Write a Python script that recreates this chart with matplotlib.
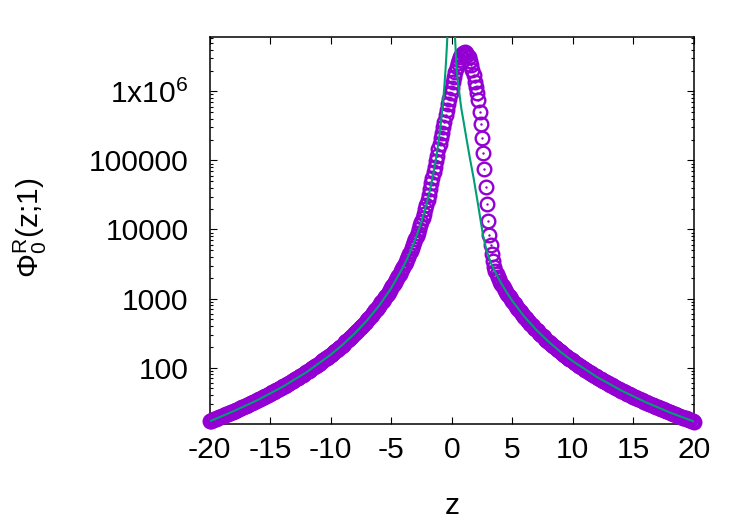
import numpy as np
import matplotlib
matplotlib.use('Agg')
import matplotlib.pyplot as plt
from matplotlib.ticker import FixedLocator, LogLocator, NullFormatter, NullLocator

plt.rcParams['font.family'] = ['Liberation Sans', 'DejaVu Sans']
plt.rcParams['mathtext.fontset'] = 'custom'
plt.rcParams['mathtext.rm'] = 'Liberation Sans'
plt.rcParams['mathtext.it'] = 'Liberation Sans'
plt.rcParams['axes.unicode_minus'] = False

# numerical data, sampled every 0.1 in z
z_num = np.round(np.arange(-20, 20.05, 0.1), 1)

phi_left = [16.75, 17.02, 17.3, 17.58, 17.87, 18.16, 18.46, 18.77, 19.09, 19.41,
            19.74, 20.07, 20.42, 20.77, 21.13, 21.5, 21.87, 22.26, 22.65, 23.05,
            23.47, 23.89, 24.32, 24.76, 25.22, 25.68, 26.15, 26.64, 27.14, 27.65,
            28.17, 28.71, 29.26, 29.83, 30.41, 31.0, 31.61, 32.23, 32.87, 33.53,
            34.21, 34.9, 35.61, 36.34, 37.09, 37.87, 38.66, 39.47, 40.31, 41.17,
            42.05, 42.96, 43.9, 44.86, 45.85, 46.87, 47.92, 49.0, 50.12, 51.26,
            52.44, 53.66, 54.91, 56.21, 57.54, 58.92, 60.33, 61.8, 63.31, 64.87,
            66.48, 68.14, 69.86, 71.64, 73.47, 75.37, 77.33, 79.36, 81.46, 83.63,
            85.89, 88.22, 90.63, 93.13, 95.73, 98.42, 101.2, 104.1, 107.1, 110.2,
            113.5, 116.8, 120.3, 124.0, 127.7, 131.7, 135.8, 140.0, 144.5, 149.1,
            153.9, 159.0, 164.2, 169.7, 175.4, 181.4, 187.6, 194.2, 201.0, 208.1,
            215.6, 223.5, 231.7, 240.3, 249.4, 258.9, 268.9, 279.4, 290.5, 302.1,
            314.3, 327.3, 340.9, 355.2, 370.4, 386.5, 403.4, 421.4, 440.4, 460.5,
            481.9, 504.6, 528.8, 554.4, 581.8, 610.9, 642, 675.2, 710.6, 748.6,
            789.3, 832.9, 879.7, 930, 984.2, 1043, 1106, 1174, 1248, 1328,
            1414, 1509, 1612, 1724, 1847, 1982, 2129, 2292, 2471, 2669,
            2889, 3133, 3404, 3707, 4047, 4429, 4859, 5346, 5900, 6530,
            7253, 8084, 9045, 10161, 11465, 12998, 14812, 16973, 19568, 22709]
phi_peak = [26300, 31600, 38000, 46800, 56200, 67600, 81300, 97700, 117500, 144500,
            173800, 208900, 251200, 302000, 363100, 446700, 537000, 645700, 776200, 933300,
            1.122e6, 1.349e6, 1.622e6, 1.905e6, 2.239e6, 2.570e6, 2.884e6, 3.162e6, 3.388e6, 3.548e6,
            3.631e6, 3.673e6, 3.589e6, 3.388e6, 3.090e6, 2.754e6, 2.399e6, 2.042e6, 1.698e6, 1.380e6,
            1.148e6, 933300, 741300, 501200, 331100, 213800, 125900, 74130, 41210, 23440,
            13490, 8318, 6026, 4467, 3467, 2884, 2512, 2265, 2065, 1905,
            1766]
phi_right = [1644, 1533, 1432, 1340, 1255, 1178, 1106, 1041, 980.5, 924.7,
             873.1, 825.3, 780.9, 739.7, 701.4, 665.7, 632.4, 601.3, 572.2, 545.0,
             519.4, 495.5, 473.1, 451.9, 432.1, 413.4, 395.7, 379.1, 363.4, 348.5,
             334.5, 321.2, 308.6, 296.6, 285.3, 274.6, 264.3, 254.6, 245.4, 236.6,
             228.2, 220.3, 212.7, 205.4, 198.5, 191.8, 185.5, 179.5, 173.7, 168.1,
             162.8, 157.8, 152.9, 148.2, 143.7, 139.4, 135.3, 131.4, 127.5, 123.9,
             120.4, 117.0, 113.7, 110.6, 107.5, 104.6, 101.8, 99.1, 96.49, 93.96,
             91.53, 89.18, 86.91, 84.72, 82.6, 80.55, 78.57, 76.66, 74.8, 73.01,
             71.27, 69.59, 67.96, 66.39, 64.86, 63.38, 61.94, 60.55, 59.2, 57.88,
             56.61, 55.38, 54.18, 53.01, 51.88, 50.79, 49.72, 48.68, 47.67, 46.69,
             45.74, 44.81, 43.91, 43.03, 42.17, 41.34, 40.53, 39.74, 38.97, 38.22,
             37.49, 36.78, 36.09, 35.42, 34.76, 34.11, 33.49, 32.88, 32.28, 31.7,
             31.13, 30.58, 30.04, 29.51, 28.99, 28.49, 28.0, 27.52, 27.05, 26.59,
             26.14, 25.7, 25.27, 24.85, 24.44, 24.04, 23.65, 23.27, 22.89, 22.53,
             22.17, 21.82, 21.47, 21.14, 20.81, 20.48, 20.17, 19.86, 19.56, 19.26,
             18.97, 18.68, 18.4, 18.13, 17.86, 17.6, 17.34, 17.09, 16.84, 16.6]
phi_num = phi_left + phi_peak + phi_right

# asymptotic curve, two branches either side of the pole
z_fit_l = [-20, -18, -16, -14, -12, -10, -9, -8, -7, -6, -5, -4, -3.5, -3, -2.5, -2,
           -1.75, -1.5, -1.25, -1, -0.9, -0.8, -0.7, -0.6, -0.5, -0.45, -0.4, -0.37, -0.35]
phi_fit_l = [16.7, 23.5, 34.2, 52.5, 85.9, 153.9, 215.7, 314, 482, 789, 1415, 2889, 4430, 7253, 13000, 26550,
             40700, 66640, 119500, 244000, 341800, 498200, 763800, 1.251e6, 2.242e6, 3.141e6, 4.579e6, 5.877e6, 7.02e6]
z_fit_r = [0.25, 0.27, 0.3, 0.35, 0.41, 0.5, 0.6, 0.7, 0.8, 0.96, 1.2, 1.5, 1.8, 2.0, 2.2, 2.4, 2.6, 2.8,
           3.0, 3.2, 3.5, 4, 4.5, 5, 6, 7, 8, 9, 10, 12, 14, 16, 18, 20]
phi_fit_r = [7.94e6, 6.03e6, 4.79e6, 3.16e6, 2.0e6, 1.41e6, 1.05e6, 741000, 550000, 380000, 214000, 107000,
             56200, 34700, 21400, 12900, 7940, 5620, 4270, 3390, 2600, 1766, 1255, 925, 545, 349, 237, 168,
             124, 73.0, 46.7, 31.7, 22.5, 16.6]

x_ticks = [-20, -15, -10, -5, 0, 5, 10, 15, 20]
y_ticks = [1e2, 1e3, 1e4, 1e5, 1e6]
y_tick_labels = ['100', '1000', '10000', '100000', r'1x10$^6$']

FS = 21.6

fig = plt.figure(figsize=(7.5, 5.25), dpi=100)
ax = fig.add_axes([209.5/750, 1 - 424/525, (694 - 209.5)/750, (424 - 37.3)/525])

ax.plot(z_num, phi_num, linestyle='none', marker='o', ms=9.8, mfc='none',
        mec='#9400d3', mew=1.7, clip_on=False, zorder=3)
ax.plot(z_num, phi_num, linestyle='none', marker='.', ms=1.5, color='#9400d3',
        clip_on=False, zorder=3)
ax.plot(z_fit_l, phi_fit_l, color='#009e73', lw=1.5, zorder=4)
ax.plot(z_fit_r, phi_fit_r, color='#009e73', lw=1.5, zorder=4)

ax.set_yscale('log')
ax.set_xlim(-20, 20)
ax.set_ylim(15.3, 6.05e6)

ax.set_xticks(x_ticks)
ax.set_xticklabels([str(t) for t in x_ticks])
ax.xaxis.set_minor_locator(NullLocator())
ax.yaxis.set_major_locator(FixedLocator(y_ticks))
ax.set_yticklabels(y_tick_labels)
ax.yaxis.set_minor_locator(LogLocator(base=10, subs=range(2, 10)))
ax.yaxis.set_minor_formatter(NullFormatter())

ax.tick_params(which='both', direction='in', top=True, right=True, labelsize=FS, width=0.8)
ax.tick_params(which='major', length=5)
ax.tick_params(which='minor', length=2.5)
ax.tick_params(axis='x', pad=9)
ax.tick_params(axis='y', pad=15)
for s in ax.spines.values():
    s.set_linewidth(1.1)

fig.text(452/750, 1 - 506/525, 'z', ha='center', va='center', fontsize=FS)
fig.text(30/750, 1 - 228/525, r'$Φ_0^R$(z;1)', rotation=90, ha='center', va='center', fontsize=FS)

fig.savefig('out.png', dpi=100)
